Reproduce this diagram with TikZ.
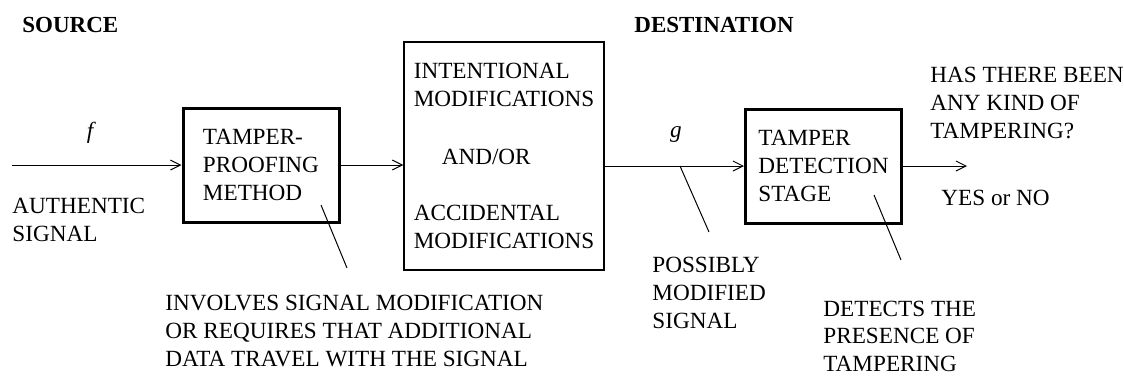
\documentclass[tikz,border=0pt]{standalone}
\usepackage{fontspec}
\setmainfont{Liberation Serif}
\usetikzlibrary{arrows.meta}
\begin{document}
\begin{tikzpicture}[x=0.5pt, y=-0.5pt,
  font=\fontsize{11.6}{14}\selectfont,
  thickbox/.style={draw, line width=1.5pt, align=left, inner sep=0pt, minimum width=78pt, minimum height=57pt},
  thinbox/.style={draw, line width=0.6pt, align=left, inner sep=0pt, minimum width=100pt, minimum height=114pt},
  note/.style={inner sep=0pt, anchor=north west, align=left},
  head/.style={inner sep=0pt, anchor=north west, font=\fontsize{11.5}{14}\selectfont\bfseries},
  flow/.style={line width=0.5pt, -{Straight Barb[length=5pt, width=5pt]}},
  pointer/.style={line width=0.5pt}]
\useasboundingbox (0,0) rectangle (1124,377);

\node[head] (src) at (22,17) {SOURCE};
\node[head] (dst) at (634,17) {DESTINATION};

\node[thickbox] (proof) at (261,165) {TAMPER-\\PROOFING\\METHOD};
\node[thinbox] (chan) at (504,156) {INTENTIONAL\\MODIFICATIONS\\[15pt]\hspace*{14pt}AND/OR\\[14pt]ACCIDENTAL\\MODIFICATIONS};
\node[thickbox] (detect) at (823.5,166) {TAMPER\\DETECTION\\STAGE};

\coordinate (in) at (12,165);
\coordinate (out) at (967,166);

\node (f) at (90,133) {\itshape f};
\node (g) at (676,135) {\itshape g};

\node[note] (auth) at (12,198) {AUTHENTIC\\SIGNAL};
\node[note] (involves) at (165,295) {INVOLVES SIGNAL MODIFICATION\\OR REQUIRES THAT ADDITIONAL\\DATA TRAVEL WITH THE SIGNAL};
\node[note] (possibly) at (652,257) {POSSIBLY\\MODIFIED\\SIGNAL};
\node[note] (question) at (930,67) {HAS THERE BEEN\\ANY KIND OF\\TAMPERING?};
\node[note] (answer) at (941,190) {YES or NO};
\node[note, font=\fontsize{11.6}{13.6}\selectfont] (detects) at (823,301) {DETECTS THE\\PRESENCE OF\\TAMPERING};

\draw[flow] (in) -- (proof);
\draw[flow] (proof) -- (chan.west |- proof);
\draw[flow] (chan.east |- detect) -- (detect);
\draw[flow] (detect) -- (out);

% leader lines to the notes
\coordinate (p1a) at (321,205);
\coordinate (p1b) at (347,268);
\coordinate (p2a) at (680,166);
\coordinate (p2b) at (709,232);
\coordinate (p3a) at (874,195);
\coordinate (p3b) at (901,260);
\draw[pointer] (p1a) -- (p1b);
\draw[pointer] (p2a) -- (p2b);
\draw[pointer] (p3a) -- (p3b);
\end{tikzpicture}
\end{document}
